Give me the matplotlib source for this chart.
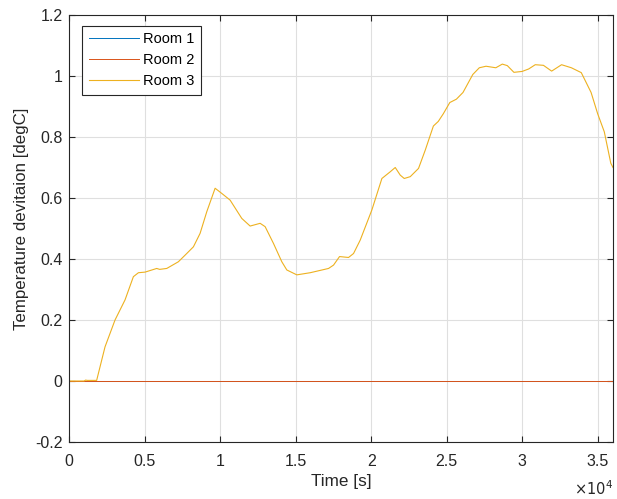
import matplotlib
matplotlib.use("Agg")
import matplotlib.pyplot as plt

plt.rcParams['font.family'] = ['Liberation Sans', 'DejaVu Sans']

# Data (time in seconds, temperature deviation in degC)
t3 = [0, 1000, 1100, 1200, 1830, 2384, 3046, 3709, 4260, 4592, 5033, 5805, 6000, 6468,
      7240, 7792, 8234, 8675, 9117, 9669, 10110, 10662, 11435, 11987, 12649, 12980,
      13532, 14083, 14415, 15077, 15960, 17175, 17506, 17903, 18499, 18830, 19272,
      20044, 20706, 21258, 21589, 21920, 22185, 22583, 23130, 23576, 24113, 24437,
      24768, 25200, 25636, 26073, 26722, 27153, 27596, 28245, 28676, 29007, 29444,
      29987, 30418, 30854, 31397, 31940, 32596, 33245, 33901, 34550, 34987, 35424,
      35854, 36000]
room3 = [0, 0, 0.003, 0.002, 0.002, 0.112, 0.2, 0.266, 0.342, 0.355, 0.357, 0.369, 0.366, 0.369,
         0.391, 0.418, 0.44, 0.484, 0.555, 0.632, 0.615, 0.593, 0.533, 0.508, 0.517, 0.506,
         0.451, 0.391, 0.364, 0.348, 0.355, 0.369, 0.38, 0.408, 0.405, 0.418, 0.462,
         0.561, 0.664, 0.686, 0.70, 0.675, 0.664, 0.67, 0.697, 0.757, 0.836, 0.851,
         0.876, 0.913, 0.924, 0.946, 1.005, 1.027, 1.032, 1.027, 1.039, 1.034, 1.012,
         1.015, 1.023, 1.037, 1.035, 1.016, 1.037, 1.027, 1.011, 0.946, 0.876, 0.817,
         0.714, 0.70]
t12 = [0, 36000]
room1 = [0, 0]
room2 = [0, 0]

xticks = [0, 5000, 10000, 15000, 20000, 25000, 30000, 35000]
xticklabels = ['0', '0.5', '1', '1.5', '2', '2.5', '3', '3.5']
yticks = [-0.2, 0, 0.2, 0.4, 0.6, 0.8, 1.0, 1.2]
yticklabels = ['-0.2', '0', '0.2', '0.4', '0.6', '0.8', '1', '1.2']

fig = plt.figure(figsize=(6.17, 4.99), dpi=100)
ax = fig.add_axes([69/617, 1-442/499, (613-69)/617, (442-15)/499])

ax.plot(t12, room1, color='#0072BD', lw=0.7, label='Room 1')
ax.plot(t12, room2, color='#D95319', lw=0.7, label='Room 2')
ax.plot(t3, room3, color='#EDB120', lw=0.8, label='Room 3')

ax.set_xlim(0, 36000)
ax.set_ylim(-0.2, 1.2)
ax.set_xticks(xticks)
ax.set_xticklabels(xticklabels)
ax.set_yticks(yticks)
ax.set_yticklabels(yticklabels)
ax.grid(True, color='#dfdfdf', lw=0.8)
ax.set_axisbelow(True)
ax.tick_params(direction='in', length=4, top=True, right=True, labelsize=11.5,
               colors='#262626', width=0.8)
ax.tick_params(axis='x', pad=8.5)
ax.tick_params(axis='y', pad=4.5)
for s in ax.spines.values():
    s.set_color('#262626')
    s.set_linewidth(0.8)
ax.set_xlabel('Time [s]', fontsize=12.3, color='#262626')
ax.set_ylabel('Temperature devitaion [degC]', fontsize=12.2, color='#262626')
ax.xaxis.set_label_coords(0.5, (442-474)/427)
ax.yaxis.set_label_coords((29-69)/544, (442-218.5)/427)
fig.text(613/617, 1-489/499, r'$\times10^4$', ha='right', va='center', fontsize=10.5,
         color='#262626')

leg = ax.legend(loc='upper left', bbox_to_anchor=(13/544, 1-10.5/427), fontsize=10.5,
                frameon=True, fancybox=False, borderpad=0.45, handlelength=3.45,
                handletextpad=0.3, labelspacing=0.48, borderaxespad=0)
leg.get_frame().set_edgecolor('#262626')
leg.get_frame().set_linewidth(0.8)
leg.get_frame().set_alpha(1)

fig.savefig('out.png', dpi=100)
